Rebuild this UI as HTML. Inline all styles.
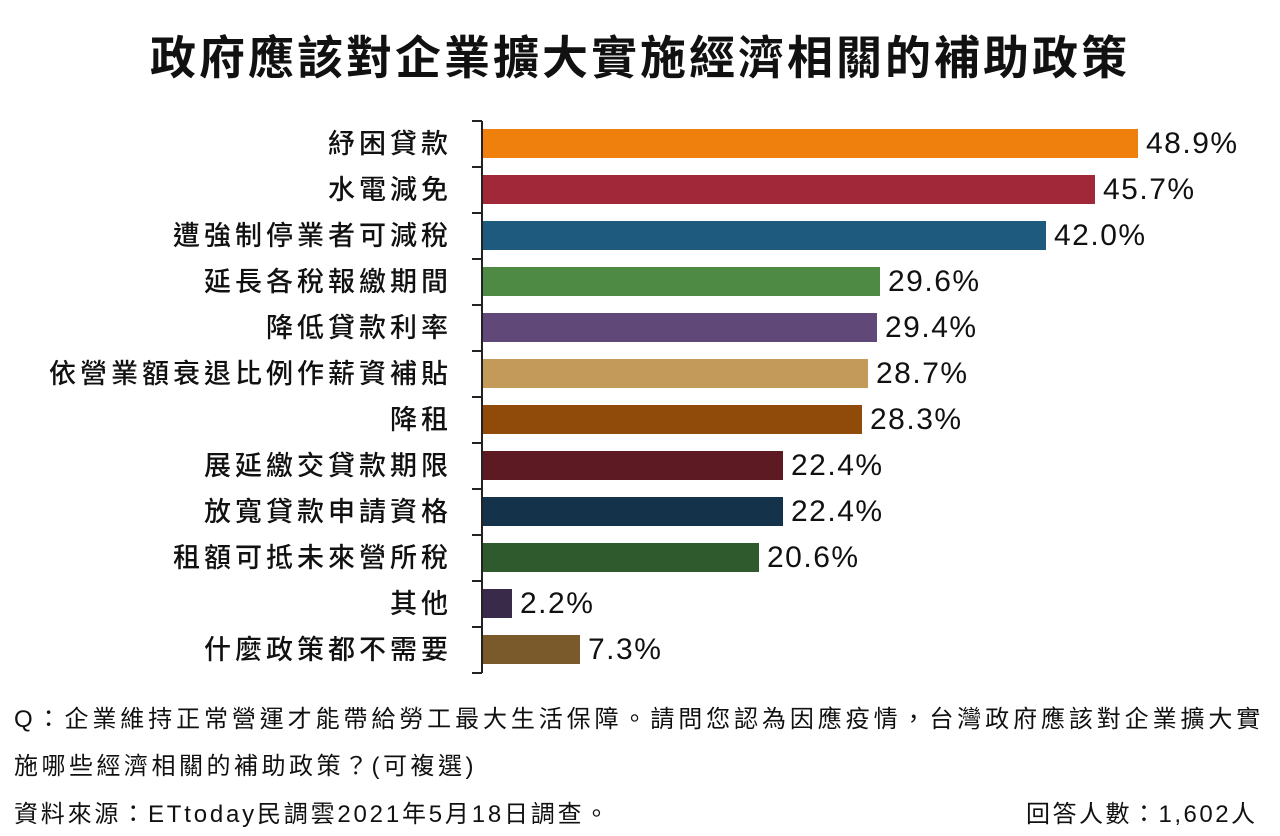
<!DOCTYPE html><html><head><meta charset="utf-8"><style>
body{margin:0;width:1280px;height:836px;background:#fff;overflow:hidden;font-family:"Liberation Sans","Noto Sans CJK TC",sans-serif;color:#111;position:relative}
.t{position:absolute;left:0;width:1280px;top:30px;text-align:center;font-size:46px;font-weight:bold;line-height:56px;letter-spacing:3px}
.l{position:absolute;right:828px;font-size:27px;line-height:30px;white-space:nowrap;font-weight:500;letter-spacing:4px}
.b{position:absolute;left:483px;height:29px}
.v{position:absolute;font-size:30px;line-height:30px;letter-spacing:1.5px}
.f{position:absolute;font-size:24px;line-height:28px;white-space:nowrap;letter-spacing:3.5px}
</style></head><body>
<div class="t">政府應該對企業擴大實施經濟相關的補助政策</div>
<svg style="position:absolute;left:0;top:0" width="1280" height="836">
<line x1="482" y1="121" x2="482" y2="673" stroke="#222" stroke-width="2"/>
<g stroke="#222" stroke-width="2">
<line x1="472" y1="121" x2="482" y2="121"/><line x1="472" y1="167" x2="482" y2="167"/><line x1="472" y1="213" x2="482" y2="213"/><line x1="472" y1="259" x2="482" y2="259"/><line x1="472" y1="305" x2="482" y2="305"/><line x1="472" y1="351" x2="482" y2="351"/><line x1="472" y1="397" x2="482" y2="397"/><line x1="472" y1="443" x2="482" y2="443"/><line x1="472" y1="489" x2="482" y2="489"/><line x1="472" y1="535" x2="482" y2="535"/><line x1="472" y1="581" x2="482" y2="581"/><line x1="472" y1="627" x2="482" y2="627"/><line x1="472" y1="673" x2="482" y2="673"/>
</g></svg>
<div class="l" style="top:129px">紓困貸款</div><div class="b" style="top:129px;width:655px;background:#F0800E"></div><div class="v" style="top:129px;left:1146px">48.9%</div>
<div class="l" style="top:175px">水電減免</div><div class="b" style="top:175px;width:612px;background:#A02838"></div><div class="v" style="top:175px;left:1103px">45.7%</div>
<div class="l" style="top:221px">遭強制停業者可減稅</div><div class="b" style="top:221px;width:563px;background:#1E5A7E"></div><div class="v" style="top:221px;left:1054px">42.0%</div>
<div class="l" style="top:267px">延長各稅報繳期間</div><div class="b" style="top:267px;width:397px;background:#4E8A44"></div><div class="v" style="top:267px;left:888px">29.6%</div>
<div class="l" style="top:313px">降低貸款利率</div><div class="b" style="top:313px;width:394px;background:#604878"></div><div class="v" style="top:313px;left:885px">29.4%</div>
<div class="l" style="top:359px">依營業額衰退比例作薪資補貼</div><div class="b" style="top:359px;width:385px;background:#C49A5A"></div><div class="v" style="top:359px;left:876px">28.7%</div>
<div class="l" style="top:405px">降租</div><div class="b" style="top:405px;width:379px;background:#904A0A"></div><div class="v" style="top:405px;left:870px">28.3%</div>
<div class="l" style="top:451px">展延繳交貸款期限</div><div class="b" style="top:451px;width:300px;background:#5E1A22"></div><div class="v" style="top:451px;left:791px">22.4%</div>
<div class="l" style="top:497px">放寬貸款申請資格</div><div class="b" style="top:497px;width:300px;background:#14334A"></div><div class="v" style="top:497px;left:791px">22.4%</div>
<div class="l" style="top:543px">租額可抵未來營所稅</div><div class="b" style="top:543px;width:276px;background:#2E5A2E"></div><div class="v" style="top:543px;left:767px">20.6%</div>
<div class="l" style="top:589px">其他</div><div class="b" style="top:589px;width:29px;background:#3A2A4A"></div><div class="v" style="top:589px;left:520px">2.2%</div>
<div class="l" style="top:635px">什麼政策都不需要</div><div class="b" style="top:635px;width:97px;background:#7A5A2A"></div><div class="v" style="top:635px;left:588px">7.3%</div>
<div class="f" style="left:14px;top:706px;letter-spacing:3.9px">Q：企業維持正常營運才能帶給勞工最大生活保障。請問您認為因應疫情，台灣政府應該對企業擴大實</div>
<div class="f" style="left:14px;top:753px">施哪些經濟相關的補助政策？(可複選)</div>
<div class="f" style="left:14px;top:801px;letter-spacing:2.8px">資料來源：ETtoday民調雲2021年5月18日調查。</div>
<div class="f" style="left:1026px;top:801px;letter-spacing:2.5px">回答人數：1,602人</div>
</body></html>
